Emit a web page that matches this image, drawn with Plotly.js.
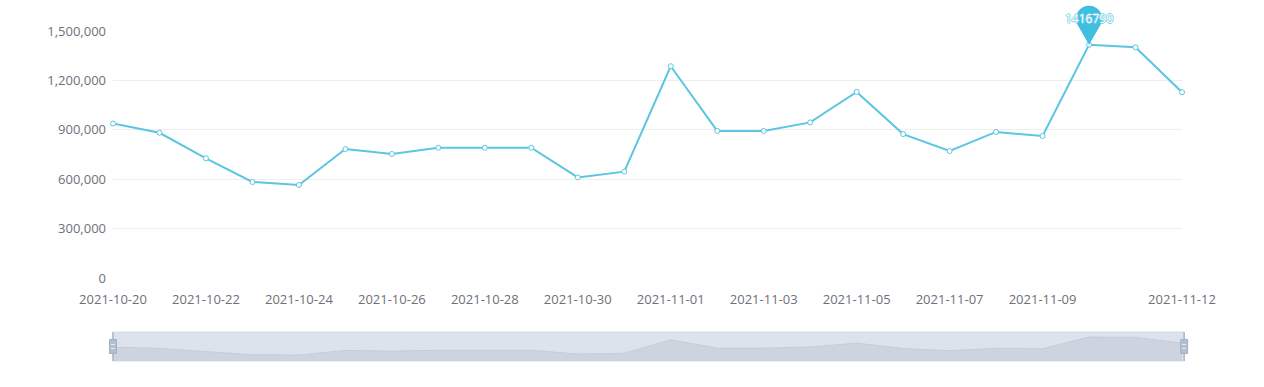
<!DOCTYPE html>
<html>
<head>
<meta charset="utf-8">
<script src="https://cdn.plot.ly/plotly-3.0.1.min.js"></script>
<style>html,body{margin:0;padding:0;background:#fff;}#chart{width:1264px;height:387px;}</style>
</head>
<body>
<div id="chart"></div>
<script>
const dates = ["2021-10-20","2021-10-21","2021-10-22","2021-10-23","2021-10-24","2021-10-25","2021-10-26","2021-10-27","2021-10-28","2021-10-29","2021-10-30","2021-10-31","2021-11-01","2021-11-02","2021-11-03","2021-11-04","2021-11-05","2021-11-06","2021-11-07","2021-11-08","2021-11-09","2021-11-10","2021-11-11","2021-11-12"];
const values = [938000,882000,727000,583000,565000,783000,753000,791000,791000,791000,611000,646000,1286000,893000,893000,945000,1130000,874000,771000,887000,862000,1416790,1401000,1128000];
const xTickLabels = ["2021-10-20","2021-10-22","2021-10-24","2021-10-26","2021-10-28","2021-10-30","2021-11-01","2021-11-03","2021-11-05","2021-11-07","2021-11-09","2021-11-12"];
const yTickValues = [0,300000,600000,900000,1200000,1500000];

const lineColor = '#5ac6e2';
const pinColor = '#40bee0';

let maxIdx = 0;
values.forEach((v,i)=>{ if(v>values[maxIdx]) maxIdx=i; });
const maxVal = values[maxIdx];
const vmin = Math.min(...values), vmax = Math.max(...values);
const span = vmax - vmin;

const yRange = [0, 1500000];
const yDomain = [(361-278)/330, 1];
const maxPaperY = yDomain[0] + (maxVal - yRange[0])/(yRange[1]-yRange[0])*(yDomain[1]-yDomain[0]);

// pin path (pixels relative to the max point; positive y is up)
const r = 13, d = 26;
const a0 = Math.acos(r/d);
let pts = [[0,0]];
const n = 40;
const startAng = -Math.PI/2 + a0;
const endAng = 3*Math.PI/2 - a0;
for(let k=0;k<=n;k++){
  const t = startAng + (endAng-startAng)*k/n;
  pts.push([r*Math.cos(t), (d + r*Math.sin(t))]);
}
const pinPath = 'M' + pts.map(p=>p[0].toFixed(2)+','+p[1].toFixed(2)).join(' L') + ' Z';

const traces = [
  {
    x: dates, y: values, type:'scatter', mode:'lines+markers',
    line:{color:lineColor, width:2},
    marker:{symbol:'circle', size:5, color:'#ffffff', line:{color:lineColor, width:1}},
    cliponaxis:false, hoverinfo:'x+y', xaxis:'x', yaxis:'y'
  },
  {
    x: dates, y: values, type:'scatter', mode:'lines',
    line:{color:'#c4cdd9', width:1}, fill:'tozeroy', fillcolor:'#cdd4df',
    hoverinfo:'skip', xaxis:'x2', yaxis:'y2'
  }
];

const fontFam = '"Open Sans", "Noto Sans", sans-serif';
const layout = {
  width:1264, height:387,
  margin:{l:113, r:82, t:31, b:26},
  paper_bgcolor:'#ffffff', plot_bgcolor:'rgba(0,0,0,0)',
  showlegend:false,
  font:{family:fontFam, size:13, color:'#6e7079'},
  xaxis:{
    type:'category', range:[0, dates.length-1], domain:[0,1], anchor:'y',
    tickvals:xTickLabels, ticktext:xTickLabels,
    showgrid:false, zeroline:false, showline:false, ticks:'',
    ticklabelstandoff:12, tickfont:{size:13, color:'#6e7079'}
  },
  yaxis:{
    range:yRange, domain:yDomain, anchor:'x',
    tickvals:yTickValues, tickformat:',d',
    showgrid:true, gridcolor:'#eeeeee', gridwidth:1, zeroline:false, showline:false, ticks:'',
    ticklabelstandoff:6, tickfont:{size:13, color:'#6e7079'}
  },
  xaxis2:{
    type:'category', range:[0, dates.length-1], domain:[0,1], anchor:'y2',
    visible:false, showgrid:false, zeroline:false
  },
  yaxis2:{
    range:[vmin - 0.33*span, vmax + 0.28*span], domain:[0, 29/330], anchor:'x2',
    visible:false, showgrid:false, zeroline:false
  },
  shapes:[
    {type:'rect', xref:'paper', yref:'y2 domain', x0:0, x1:1.002, y0:0, y1:1,
     fillcolor:'#dde3ec', line:{color:'#d6dce6', width:1}, layer:'below'},
    {type:'line', xref:'paper', yref:'y2 domain', x0:0, x1:0, y0:0, y1:1, line:{color:'#a9b6c9', width:1.5}},
    {type:'line', xref:'paper', yref:'y2 domain', x0:1.002, x1:1.002, y0:0, y1:1, line:{color:'#a9b6c9', width:1.5}},
    {type:'rect', xref:'paper', xsizemode:'pixel', xanchor:0, x0:-3.5, x1:3.5,
     yref:'y2 domain', ysizemode:'pixel', yanchor:0.5, y0:-7, y1:7,
     fillcolor:'#b3bfd0', line:{color:'#a3b1c6', width:1}},
    {type:'rect', xref:'paper', xsizemode:'pixel', xanchor:1.002, x0:-3.5, x1:3.5,
     yref:'y2 domain', ysizemode:'pixel', yanchor:0.5, y0:-7, y1:7,
     fillcolor:'#b3bfd0', line:{color:'#a3b1c6', width:1}},
    {type:'path', xref:'paper', xsizemode:'pixel', xanchor:0,
     yref:'y2 domain', ysizemode:'pixel', yanchor:0.5,
     path:'M-2,2 L2,2 M-2,-2 L2,-2', line:{color:'#e4e9f0', width:1}},
    {type:'path', xref:'paper', xsizemode:'pixel', xanchor:1.002,
     yref:'y2 domain', ysizemode:'pixel', yanchor:0.5,
     path:'M-2,2 L2,2 M-2,-2 L2,-2', line:{color:'#e4e9f0', width:1}},
    {type:'path', xref:'x', yref:'paper', xsizemode:'pixel', ysizemode:'pixel',
     xanchor:maxIdx, yanchor:maxPaperY, path:pinPath,
     fillcolor:pinColor, line:{color:pinColor, width:0}, layer:'above'}
  ],
  annotations:[
    {x:dates[maxIdx], y:maxVal, xref:'x', yref:'y', showarrow:false, yshift:d,
     text:String(maxVal),
     font:{family:fontFam, size:12, color:'#ffffff',
       shadow:'1px 0 0 #7fd3ea, -1px 0 0 #7fd3ea, 0 1px 0 #7fd3ea, 0 -1px 0 #7fd3ea'}}
  ]
};

Plotly.newPlot('chart', traces, layout, {displayModeBar:false, staticPlot:true});
</script>
</body>
</html>
